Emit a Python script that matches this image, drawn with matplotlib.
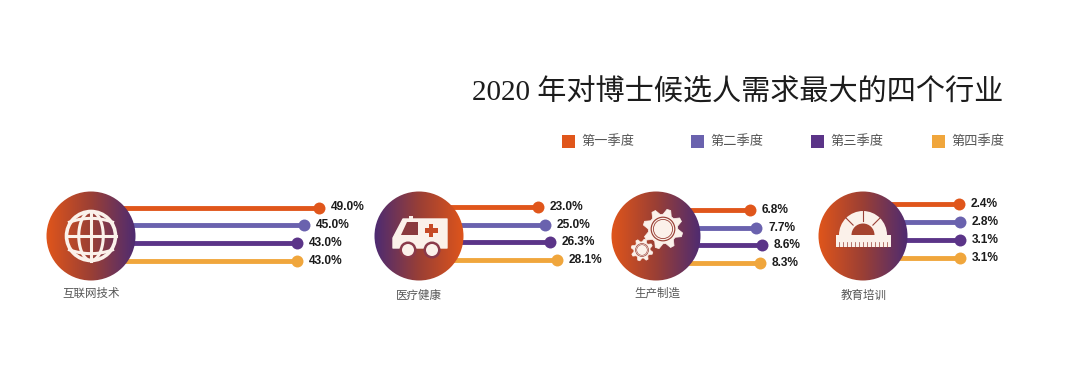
#!/usr/bin/env python3
"""Lollipop panels: the four industries with most demand for PhD candidates, 2020."""
import numpy as np
import matplotlib
matplotlib.use("Agg")
import matplotlib.pyplot as plt
from matplotlib.colors import LinearSegmentedColormap
from matplotlib.patches import Circle, Polygon, Rectangle, Wedge

W, H = 1080, 365
TITLE = "2020 年对博士候选人需求最大的四个行业"
QUARTERS = ["第一季度", "第二季度", "第三季度", "第四季度"]
INDUSTRIES = ["互联网技术", "医疗健康", "生产制造", "教育培训"]
INTERNET = [49.0, 45.0, 43.0, 43.0]
HEALTH = [23.0, 25.0, 26.3, 28.1]
MAKING = [6.8, 7.7, 8.6, 8.3]
EDUCATION = [2.4, 2.8, 3.1, 3.1]

COLORS = ["#E0561B", "#6A62AE", "#5B3488", "#F0A63C"]
ICON = "#FBF1EA"
DARK = "#9A4036"
CJK = ["Noto Sans CJK SC", "DejaVu Sans"]
SERIF = ["Liberation Serif", "Noto Sans CJK SC"]

# layout in pixels: circle centre x, px of value 0, px per unit, first and last row y,
# label centre x and y
LAYOUT = [
    dict(cx=91, zero=137, scale=3.72, top=207.5, bottom=260.5, lx=91, ly=293, flip=False),
    dict(cx=419, zero=452, scale=3.73, top=207, bottom=260, lx=419, ly=295, flip=True),
    dict(cx=656, zero=705, scale=6.67, top=210, bottom=263, lx=657, ly=293, flip=False),
    dict(cx=863, zero=957, scale=1.0, top=204, bottom=258, lx=864, ly=295, flip=False),
]
CY, R = 236, 44.5

plt.rcParams["font.family"] = CJK
fig = plt.figure(figsize=(W / 100, H / 100), dpi=100, facecolor="white")

cmap = LinearSegmentedColormap.from_list("brand", ["#E2561A", "#9A3F35", "#4A2A74"])


def panel_axes(values, p):
    # one small axes per panel, each with its own value scale
    step = (p["bottom"] - p["top"]) / 3
    y_top, y_bot = p["top"] - step, p["bottom"] + step
    x_right = 1080
    ax = fig.add_axes([p["cx"] / W, 1 - y_bot / H, (x_right - p["cx"]) / W, (y_bot - y_top) / H])
    ax.set_xlim((p["cx"] - p["zero"]) / p["scale"], (x_right - p["zero"]) / p["scale"])
    ax.set_ylim(4, -1)
    ax.axis("off")
    left = ax.get_xlim()[0]
    for i, v in enumerate(values):
        ax.plot([left, v], [i, i], color=COLORS[i], lw=3.5, solid_capstyle="butt", zorder=1)
        ax.plot([v], [i], "o", color=COLORS[i], ms=8.6, mew=0, zorder=2)
        ax.annotate(f"{v:.1f}%", (v, i), xytext=(8.4, 0), textcoords="offset points",
                    ha="left", va="center", fontsize=8.6, fontweight="bold",
                    family="Liberation Sans", color="#1c1c1c")
    return ax


def globe(ax, cx, cy):
    r = 24.5
    t = np.linspace(-np.pi / 2, np.pi / 2, 60)
    ax.add_patch(Circle((cx, cy), r, fc="none", ec=ICON, lw=2.6))
    for k in (-0.5, 0.5):
        ax.plot(cx + k * r * np.cos(t), cy + r * np.sin(t), color=ICON, lw=2.2)
    ax.plot([cx, cx], [cy - r, cy + r], color=ICON, lw=2.2)
    ax.plot([cx - r, cx + r], [cy, cy], color=ICON, lw=2.2)
    # latitudes bow away from the equator
    xs = np.linspace(-0.88, 0.88, 40) * r
    for sign in (-1, 1):
        ax.plot(cx + xs, cy + sign * (0.72 * r - 0.2 * r * (xs / r) ** 2), color=ICON, lw=2.2)


def ambulance(ax, cx, cy):
    body = [(cx - 26, cy + 12), (cx - 26, cy + 2), (cx - 16, cy - 17), (cx + 28, cy - 17),
            (cx + 28, cy + 12)]
    ax.add_patch(Polygon(body, fc=ICON, ec=ICON, lw=1, joinstyle="round"))
    ax.add_patch(Rectangle((cx - 10, cy - 20.5), 4, 4, fc=ICON, ec="none"))
    ax.add_patch(Polygon([(cx - 18, cy - 1), (cx - 12, cy - 14), (cx - 1, cy - 14), (cx - 1, cy - 1)],
                         fc="#8A3A3E", ec="none"))
    ax.add_patch(Rectangle((cx + 5.5, cy - 8), 13, 4.5, fc="#C64A26", ec="none"))
    ax.add_patch(Rectangle((cx + 9.8, cy - 12.5), 4.5, 13, fc="#C64A26", ec="none"))
    for wx in (cx - 11, cx + 13):
        ax.add_patch(Circle((wx, cy + 14), 8.5, fc="#8A3A4A", ec="none"))
        ax.add_patch(Circle((wx, cy + 14), 6, fc=ICON, ec="none"))


def gear(ax, cx, cy, r, teeth, lw):
    angles = np.linspace(0, 2 * np.pi, teeth * 4, endpoint=False)
    radii = np.tile([r, r, r * 0.74, r * 0.74], teeth)
    pts = np.c_[cx + radii * np.cos(angles + 0.2), cy + radii * np.sin(angles + 0.2)]
    ax.add_patch(Polygon(pts, fc=ICON, ec=ICON, lw=0.5))
    ax.add_patch(Circle((cx, cy), r * 0.62, fc=DARK, ec="none"))
    ax.add_patch(Circle((cx, cy), r * 0.56, fc=ICON, ec="none"))
    ax.add_patch(Circle((cx, cy), r * 0.48, fc="none", ec=DARK, lw=lw))


def protractor(ax, cx, cy):
    ax.add_patch(Wedge((cx, cy), 24, 180, 360, fc=ICON, ec="none"))
    ax.add_patch(Wedge((cx, cy), 11.5, 180, 360, fc="#A5432F", ec="none"))
    ax.add_patch(Rectangle((cx - 27.5, cy), 55, 12, fc=ICON, ec="none"))
    for dx in np.arange(-24, 25, 4):
        ax.plot([cx + dx, cx + dx], [cy + 7, cy + 12], color=DARK, lw=0.5)
    for a in (45, 90, 135):
        t = np.radians(a)
        ax.plot([cx + 14 * np.cos(t), cx + 24 * np.cos(t)],
                [cy - 14 * np.sin(t), cy - 24 * np.sin(t)], color=DARK, lw=0.8)


# lollipops first, so the circles sit on top of the line starts
for values, p in zip([INTERNET, HEALTH, MAKING, EDUCATION], LAYOUT):
    panel_axes(values, p)

top = fig.add_axes([0, 0, 1, 1], zorder=5)
top.patch.set_alpha(0)
top.axis("off")

grad = np.linspace(0, 1, 256)[None, :]
for name, p in zip(INDUSTRIES, LAYOUT):
    cx = p["cx"]
    # image a bit wider than the circle, so only the clip shapes the edge
    im = top.imshow(grad[:, ::-1] if p["flip"] else grad, cmap=cmap, aspect="auto",
                    extent=(cx - R - 2, cx + R + 2, CY + R + 2, CY - R - 2), zorder=1)
    im.set_clip_path(Circle((cx, CY), R, transform=top.transData))
    top.text(p["lx"], p["ly"], name, ha="center", va="center", fontsize=8.3, color="#555555")
top.set_xlim(0, W)
top.set_ylim(H, 0)

globe(top, 91, 236)
ambulance(top, 419, 236)
gear(top, 663, 229, 20, 8, 0.6)
gear(top, 642, 250, 11, 8, 0.4)
protractor(top, 863, 235)
for art in list(top.patches) + list(top.lines):
    art.set_zorder(3)

top.text(472, 93, TITLE, ha="left", va="center", fontsize=21, color="#1c1c1c", family=SERIF)

legend_x = [562, 691, 811, 932]
for x, c, q in zip(legend_x, COLORS, QUARTERS):
    top.add_patch(Rectangle((x, 135), 13, 13, fc=c, ec="none", zorder=3))
    top.text(x + 19, 141.5, q, ha="left", va="center", fontsize=9.5, color="#555555")

fig.savefig("out.png", dpi=100, facecolor="white")
